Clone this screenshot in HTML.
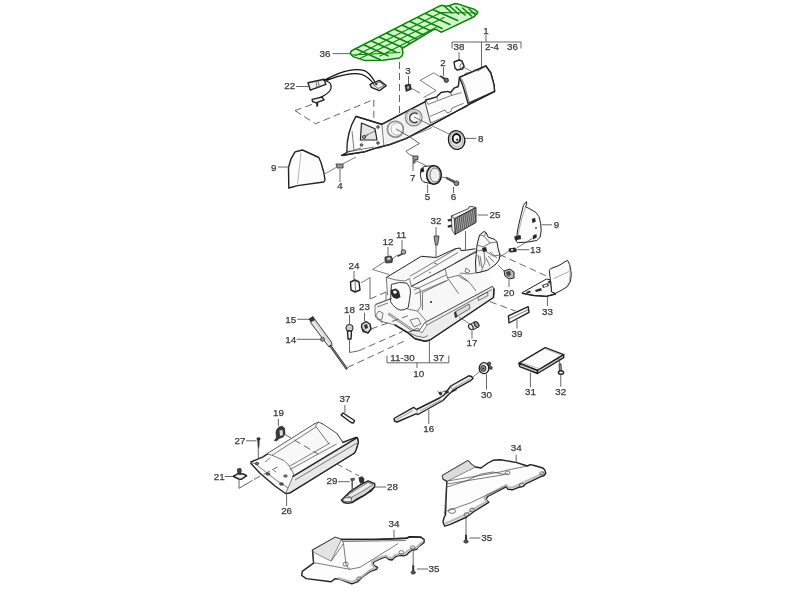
<!DOCTYPE html>
<html><head><meta charset="utf-8"><style>
html,body{margin:0;padding:0;background:#fff;width:800px;height:600px;overflow:hidden}
svg{display:block;will-change:transform}
text{font-family:"Liberation Sans",sans-serif;font-size:9.8px;fill:#383838;stroke:#383838;stroke-width:0.25px;text-anchor:middle}
.o{fill:#fcfcfc;stroke:#222;stroke-width:1.4;stroke-linejoin:round;stroke-linecap:round}
.g{fill:#e2e2e2;stroke:#2a2a2a;stroke-width:0.9;stroke-linejoin:round}
.d{fill:#9a9a9a;stroke:#2a2a2a;stroke-width:0.8}
.l{fill:none;stroke:#555;stroke-width:0.9}
.t{fill:none;stroke:#444;stroke-width:0.7}
.k{fill:none;stroke:#222;stroke-width:1.2;stroke-linejoin:round;stroke-linecap:round}
.ds{fill:none;stroke:#555;stroke-width:0.9;stroke-dasharray:7 4}
.gr{fill:#d2f4ca;stroke:#0a840a;stroke-width:1.5;stroke-linejoin:round}
.gl{fill:none;stroke:#0c860c;stroke-width:1.6;stroke-linecap:round}
</style></head><body>
<svg width="800" height="600" viewBox="0 0 800 600">
<rect width="800" height="600" fill="#fff"/>
<g>

<!-- ===== Part 36 (green) ===== -->
<g id="p36">
<clipPath id="c36"><path d="M350.5,54 Q350,51 353,50 L438.3,6.7 L441.8,5.3 L446,6.3 L449.5,5.6 L455.1,3.5 L457.9,3.9 L467,7 L474,9.1 L477.5,11.6 L477.8,12.3 L476.8,14 L474,16.8 L446,30.1 L441.1,32.2 L436.2,29.4 L434,29.4 L402,48.5 L403,52.5 L402,56 L399.5,58 L383,60.3 L365,60.6 L353,56.6 Z"/></clipPath>
<path class="gr" d="M350.5,54 Q350,51 353,50 L438.3,6.7 L441.8,5.3 L446,6.3 L449.5,5.6 L455.1,3.5 L457.9,3.9 L467,7 L474,9.1 L477.5,11.6 L477.8,12.3 L476.8,14 L474,16.8 L446,30.1 L441.1,32.2 L436.2,29.4 L434,29.4 L402,48.5 L403,52.5 L402,56 L399.5,58 L383,60.3 L365,60.6 L353,56.6 Z"/>
<g clip-path="url(#c36)">
<path class="gl" d="M354.3,48.0 L380.3,59.7 M362.0,44.1 L388.0,55.8 M369.8,40.2 L395.8,51.9 M377.5,36.3 L403.5,48.0 M385.2,32.4 L411.2,44.1 M393.0,28.5 L419.0,40.2 M400.7,24.6 L426.7,36.3 M408.4,20.7 L434.4,32.4 M416.1,16.8 L442.1,28.5 M423.9,12.8 L449.9,24.5 M431.6,8.9 L457.6,20.6 M443.0,5.0 L452.0,13.0 M449.5,6.0 L458.5,14.0 M456.0,7.0 L465.0,15.0 M462.5,8.0 L471.5,16.0 M469.0,9.0 L478.0,17.0"/>
<path class="gl" style="stroke-width:1.2" d="M356,55.5 L441,12.5 L476,13 M360,58.5 L444,17.5 M380,56 L436,27.5 M352,55 L400,52.5"/>
</g>
</g>>>>

<!-- ===== Bracket 1 ===== -->
<path class="l" d="M486,35 L486,42 M452,48.5 L452,42 L521,42 L521,48.5 M481.5,42 L481.5,68 M459,52 L459,60"/>

<!-- ===== Part 38 ===== -->
<g><path class="o" d="M454,62 L459,60 L462,61 L464,66 L462,69 L457,70 L455,68 Z"/><ellipse cx="462" cy="66.5" rx="2" ry="3" class="t"/></g>
<path class="t" d="M463,67 L471,71"/>

<!-- ===== Dashboard (part 1) ===== -->
<g id="dash">
<path class="o" d="M341.6,155.3 L346.8,152.5 Q346.5,132 355.9,116.4 L381.8,124.3 L425,101.8 L425.8,100 L436.7,96.8 L441,92.5 L447.5,91.4 L450.7,92.5 L454,88.2 L458.3,86.5 L459.4,77.3 L485.9,66 L490.8,73 L494,84.9 L494.6,91.4 L468,105 L430.6,125.4 L406,138.6 L390,144.5 L377,147.7 L365,151.7 Z"/>
<!-- gauge face shading -->
<path d="M381.8,124.3 L425,101.8 L430.6,123.1 L406,137 L386,144 Z" fill="#f1f1f1"/>
<!-- end cap -->
<path class="o" d="M459.4,77.3 L485.9,66 L490.8,73 L494,84.9 L494.6,91.4 L468,103.3 L465.9,95.7 L462.6,84.9 Z"/>
<path class="t" d="M461.5,78.5 L464.5,85.5 L467.5,96 L469.5,103 M468,103.3 L494.6,91.4 M463,76 L466,73 L470,73 L475,70 L478,71 L485.9,66"/>
<!-- ledge -->
<path class="t" d="M425.8,100 L428,104.4 L450.7,95.7 L461.6,92.5 M436.7,96.8 L437.5,99.8 M450.7,92.5 L451.5,95.5"/>
<path class="t" d="M430.2,116.3 L445,110 L447,113 L451,111.5 L452,108 L463.7,103.3 M430.6,123.1 L467.8,106.3"/>
<path class="t" d="M425,101.8 L430.6,123.1" style="stroke-width:1"/>
<path class="k" d="M355.9,116.4 L381.8,124.3 L425,101.8" style="stroke-width:1.5"/>
<path class="k" d="M342.4,155.8 L365,151.7 L377,147.7 L390,144.5 L406,138.6 L430.6,125.4 L468,105 L494.6,91.4" style="stroke-width:1.1"/>
<path class="t" d="M381.8,124.3 L384,146 M347,152 L374,147 M378,148.5 L408,137.5 L432,127.5"/>
<!-- left wing -->
<path class="o" d="M361.5,123 L375,128.8 L377,140 L360.4,140 Z" style="stroke-width:1.2;fill:#e4e4e4"/>
<path class="t" d="M363,137 L375,131 M364,139 L368,134"/>
<circle cx="364" cy="137" r="1.6" class="d"/><circle cx="378" cy="127" r="1.3" class="d"/><circle cx="378" cy="143" r="1.3" class="d"/><circle cx="361.5" cy="145" r="1.3" class="d"/>
<path class="t" d="M352,131 L354,150 M346.8,152.5 L361,148 M341.6,155.3 L350,150.5"/>
<!-- gauges -->
<circle cx="395.4" cy="129.2" r="8" fill="#f6f6f6" stroke="#888" stroke-width="1.6"/>
<path d="M400,123.5 A6.2,6.2 0 1,0 401.5,133.5" fill="none" stroke="#aaa" stroke-width="0.9"/>
<circle cx="413.7" cy="117.6" r="8.3" fill="#f6f6f6" stroke="#888" stroke-width="1.3"/><circle cx="413.7" cy="117.6" r="6.4" fill="none" stroke="#aaa" stroke-width="0.8"/>
<path d="M417.5,114 A4.8,4.8 0 1,0 417.5,121.5" fill="none" stroke="#333" stroke-width="1.4"/>
</g>

<!-- dashed lines top -->
<path class="ds" d="M399.5,62 L399.5,113"/>
<path class="ds" d="M295,110.6 L315.6,123.8 L373.8,99.4 L373.8,120 M295,110.6 L313,104"/>

<!-- plate outline near 2/3 -->
<path class="t" d="M420.2,80.3 L433.8,72.8 L439.4,76.6 M420.2,80.3 L436.1,90.6 L423.4,97.6"/>

<!-- ===== Labels top ===== -->
<text x="325" y="56.55">36</text>
<path class="l" d="M332.5,53.6 L350,53.6"/>
<text x="486" y="34.20">1</text>
<text x="459" y="49.75">38</text>
<text x="492" y="49.75">2-4</text>
<text x="512.5" y="49.75">36</text>
<text x="443" y="66.00">2</text>
<path class="l" d="M443.5,67 L443.5,76"/>
<path fill="#333" d="M439,76 L441,75.5 L446,78.5 L445,80.5 Z"/><circle cx="446.3" cy="80.3" r="2.2" fill="#666" stroke="#222" stroke-width="0.8"/>
<text x="408" y="73.60">3</text>
<path class="l" d="M408.5,76 L408.5,85"/>
<path fill="#333" stroke="#111" stroke-width="0.5" d="M405,85 L410.5,84 L411.3,89.5 L406,91.5 Z"/><path fill="#bbb" d="M407,86.5 L409,86 L409.3,88.5 L407.3,89 Z"/>
<path class="t" d="M411,88 L420,93"/>

<!-- ===== Part 22 harness ===== -->
<text x="289.8" y="89.20">22</text>
<path class="l" d="M296,86.5 L308,86.5"/>
<path class="o" d="M308,82.7 L324.1,79.2 L325.9,84.4 L310.3,90.2 Z" style="fill:#eee"/>
<path class="t" d="M316,81 L317,88.5 M318,80.5 L319.5,87.5"/>
<path fill="none" stroke="#111" stroke-width="1.2" stroke-linecap="round" d="M324,80.4 C332,76 340,72 348.3,70.6 C354,69.5 360,69.5 364.4,70.6 C368,72 372,77 374.7,81.5 M326.4,80.4 C334,77 340,75.5 346,74.6 C351,73.5 357,73 362,74.5 C366,76 370,79 373.6,83.8 M326.4,81 C330,82 331.5,85 331,88.4 C330,92 327,94.5 320.1,97.6"/>
<path class="o" d="M370.1,84.4 L379.3,80.4 L386.2,85.6 L379.3,90.7 L371.3,87.3 Z" style="fill:#f2f2f2"/>
<path class="t" d="M373,84.5 L380,82 L384,85.5 L378,88.5 Z"/>
<path fill="#333" d="M375,83.5 L377,83 L377.5,85 L375.5,85.5 Z"/>
<path class="o" d="M312.1,99.4 L321.8,97.1 L324.1,99.9 L316.1,102.8 L312.6,101.7 Z" style="fill:#eee"/>
<path fill="#222" d="M316.2,103 L318.2,103 L318.2,106.5 L316.2,106.5 Z"/>
<!-- ===== Part 9 left ===== -->
<path class="o" d="M288.8,188 L288.5,167.5 L291,158.8 L295,151.9 L302.5,150 L318.8,157.5 L321,162.5 L323.8,172.5 L325,180 L323.8,182 L297.5,185.6 Z"/>
<path class="t" d="M301,152.5 L297.5,183.8" style="stroke:#999"/>
<text x="273.8" y="170.60">9</text>
<path class="l" d="M278,167 L289,167"/>
<path class="t" d="M325,173.8 L336,167.5 M343,163.8 L356,157"/>
<path class="d" d="M336,164 L343,164 L343,168 L337,168 Z"/>
<text x="340" y="189.00">4</text>
<path class="l" d="M340,169 L340,182"/>

<!-- ===== Parts 8,7,5,6 ===== -->
<ellipse cx="456.6" cy="140" rx="8.2" ry="9.5" transform="rotate(-15 456.6 140)" fill="#e2e2e2" stroke="#1a1a1a" stroke-width="1.3"/><ellipse cx="456.6" cy="139.5" rx="6.3" ry="7.4" transform="rotate(-15 456.6 140)" fill="none" stroke="#999" stroke-width="0.7"/><ellipse cx="456.5" cy="138.4" rx="3.8" ry="4.4" fill="#fafafa" stroke="#111" stroke-width="1.8"/><path fill="#333" d="M456,139 L458,138.5 L458.5,140.5 L456.5,141 Z"/>
<path class="t" d="M414,117 L449.8,134.4"/>
<text x="480.7" y="141.60">8</text>
<path class="l" d="M465,138.4 L476.5,138.4"/>
<path class="l" d="M396,129 L409.3,136.6 L419.4,143.4 L405.9,151.3 L409.3,154.6 L414,156.5"/>
<path class="d" d="M413,156 L418,156 L418,159.7 L415,159.7 L415,163 L413,163 Z"/>
<text x="412.7" y="180.70">7</text>
<path class="l" d="M413,163 L413,171"/>
<g>
<ellipse cx="425" cy="174.3" rx="4.6" ry="8" fill="#fafafa" stroke="#222" stroke-width="1"/>
<path fill="#fafafa" d="M425,166.3 L434,165.7 L434,184.3 L425,182.3 Z"/>
<path class="k" d="M425,166.3 L434,165.7 M425,182.3 L434,184.3" style="stroke-width:1"/>
<ellipse cx="434" cy="175" rx="7.3" ry="9.3" fill="#dcdcdc" stroke="#1a1a1a" stroke-width="1.6"/>
<ellipse cx="435" cy="175" rx="5" ry="7" fill="#eee" stroke="#555" stroke-width="0.8"/>
<path fill="#222" d="M420.3,169 L423.5,167.5 L424.3,171.5 L421,172.5 Z"/>
</g>
<path class="t" d="M415,160.3 L426.3,165.7 M441,177 L446.3,177.7"/>
<text x="427.6" y="199.95">5</text>
<path class="l" d="M427.6,184.5 L427.6,193"/>
<path fill="#555" stroke="#222" stroke-width="0.5" d="M446.5,177 L454.5,180.8 L453.8,182.8 L446,178.6 Z"/><circle cx="456.5" cy="183.3" r="2.4" fill="#888" stroke="#222" stroke-width="0.8"/>
<text x="453.5" y="199.95">6</text>
<path class="l" d="M453.5,187 L453.5,193"/>


<!-- ===== Glovebox housing (10) ===== -->
<g id="gb">
<path fill="#f8f8f8" d="M386.3,277.5 L421.3,256.3 L436.3,257.5 L455,248.8 L460,248 L475,248.4 L480,233.5 L485.5,231.8 L496,240.5 L499.5,252.8 L497.8,265 L492.5,268.5 L486,271 L490,281 L492.5,286.3 L493,292 L470,313.8 L427.5,338.8 L422.5,342 L417.5,341.3 L407.5,335 L395,325 L380,321 L375,314 L375,305 L386,300 Z"/>
<!-- interior floor -->
<path fill="#f7f7f7" d="M411.3,286.3 L445,268.8 L447.5,278 L458.8,293.8 L470,293.8 L425,322.5 L417.5,311 L421,306 L420,289 Z"/>
<!-- top panel -->
<path class="k" d="M386.3,277.5 L421.3,256.3 L436.3,257.5 L455,248.8 L460,248 L461,250.6 L467.5,250 L475,248.8" style="stroke-width:1"/>
<path class="t" d="M410,276.3 L456.3,248.8 M413,279 L458,252.5 M386.3,277.5 L396,280 L405,281 L409.5,278.5 L411.3,286.3 M429,272 L431,273 M434,263 L437,264"/>
<path fill="none" stroke="#222" stroke-width="1" d="M411.3,286.3 L445,268.8 L476,252"/>
<path class="t" d="M445,268.8 L447.5,278 L458.8,293.8 M447.5,278 L460,275 L468,281 L472.5,286.3 L476,291 M458.8,276.3 L467.5,281.3 M414,290 L446,275 M415,294 L448,280"/>
<circle cx="431" cy="302" r="1.1" fill="#333"/><path class="t" d="M422.5,292.5 L422.5,310 M422.5,292.5 L446,281"/>
<!-- left block -->
<path class="t" d="M386.3,277.5 L387.5,295 M411.3,286.3 L420,289 L421,306 L417.5,311 M375,305 L390,299 L407.5,309 L417.5,311 L427.5,322.5 M375,305 L375,314 L380,321 L395,325 M386,300 L386,292"/>
<path class="o" d="M391.8,284.3 Q400,281 407,283.2 Q411,288 410.5,292 L409.3,300.7 L408.2,307.7 Q404,310.5 400,310 Q394,308 390.7,301.8 Z" style="stroke-width:0.9"/>
<path fill="#2a2a2a" d="M390.5,290 L396,288.5 L399,291 L400.5,297 L397,299 L393,297.5 L391,294 Z"/>
<path fill="#fff" d="M393,291 L396,290.5 L397,293 L394,294 Z"/>
<path class="t" d="M375.5,304.2 L391.8,298.3 M377,307 L388,303 M375,316 L378,320 L382,319 L383,313 L379,311 Z M381,320 L382,323"/>
<path fill="none" stroke="#777" stroke-width="2.2" d="M388.3,313.5 L405,325 L423.3,338"/>
<path fill="none" stroke="#fff" stroke-width="0.8" d="M388.3,313.5 L405,325 L423.3,338"/>
<path class="t" d="M410,320 L418,318 L421,324 L414,327 Z M413,330 L418,328 L421,334 L416,336 Z"/>
<path fill="#444" d="M414,331 L417,330 L418,333 L415,334 Z"/>
<!-- front frame -->
<path fill="#ececec" stroke="#333" stroke-width="0.9" stroke-linejoin="round" d="M425,322.5 L492.5,286.3 L494,289 L493.5,297.5 L430,340 L425,341.3 L415,338.8 L407.5,332.5 L413,330.5 L419,331 Z"/>
<path fill="#fff" stroke="#555" stroke-width="0.7" d="M419,331 L425,322.5 L427,325 L422,333 Z"/>
<path class="t" d="M427,325 L492,289.5 M410,333 L416,336 L424,337.5 L428,335.5"/>
<path class="k" d="M395,325 L407.5,332.5 L415,338.8 L425,341.3 L430,340 L493.5,297.5 L494,289" style="stroke-width:1.5"/>
<path class="t" d="M478,297 L487.5,292 L488,295.5 L478.5,300.5 Z"/>
<path fill="#ddd" stroke="#333" stroke-width="0.7" d="M455,312 L469,304 L470,308.5 L456.5,316.5 Z"/>
<path fill="#333" d="M454,312.5 L456,311.5 L457.5,317 L455,318 Z"/>
<!-- tower -->
<path fill="#f6f6f6" stroke="#222" stroke-width="1" stroke-linejoin="round" d="M479.5,235 L484,231.5 L486,232.5 L488,237 L495,239.5 L497,242 L498,248 L500,255 L499,260 L496,264 L492,267 L488,270 L481,272 L476,273 L475.5,262 L476.5,251 L477,245 Z"/>
<path class="t" d="M479.5,235 L484,236 L486,232.5 M484,236 L490,243 L497,242 M477,245 L483,247 L490,243 M476.5,251 L484,250 L493,256 L500,255 M484,250 L485,262 L481,272 M478,255 L480,266 M480,256 L482,268 M488,256 L494,262 M490,252 L497,258 M486,258 L490,266"/>
<path fill="#222" d="M482,248 L486,247 L487,251 L483,252 Z"/>
<path class="t" d="M455,263 L476,251"/>
<path class="t" d="M466,268 L470,271 L468,273 L465,272 Z M460,273 L468,274 L475.5,273"/>
</g>
<!-- glovebox small parts -->
<text x="436" y="223.90">32</text>
<path class="l" d="M436,227 L436,236 M436,245 L436,257.5"/>
<path class="d" d="M434,236 L439,236 L438.5,240 L437.5,245 L435.5,245 L434.5,240 Z"/>
<text x="401" y="237.60">11</text>
<path class="l" d="M402,240 L402,250"/>
<circle cx="403.5" cy="252" r="2.3" fill="#aaa" stroke="#222" stroke-width="0.8"/><path fill="#444" d="M402,253 L397,255.5 L397.8,257 L403,254.5 Z"/>
<text x="388" y="244.50">12</text>
<path class="l" d="M388,247 L388,256"/>
<path fill="#555" stroke="#222" stroke-width="0.8" d="M385,257 L391,256 L392.5,259 L392,262.5 L386,263 L385,260 Z"/><path fill="#ddd" d="M387,258 L390,257.6 L390.5,259.5 L387.5,260 Z"/>
<path class="t" d="M392,259 L397.5,255 M386,261 L372.5,269.5 L389,274.5"/>
<!-- part 25 grille -->
<defs><pattern id="mesh" width="2" height="2" patternUnits="userSpaceOnUse" patternTransform="rotate(-8)"><rect width="2" height="2" fill="#a8a8a8"/><rect width="1" height="2" fill="#555"/></pattern></defs>
<path fill="#f2f2f2" stroke="#222" stroke-width="0.8" stroke-linejoin="round" d="M451.3,216 L468.5,208.5 L469,206.8 L472,206.5 L476,207.5 L454.3,218.8 Z"/>
<path fill="url(#mesh)" stroke="#222" stroke-width="0.9" stroke-linejoin="round" d="M454.3,218.8 L476,207.5 L476,222.5 L455,234.5 Z"/>
<path fill="#f4f4f4" stroke="#222" stroke-width="0.7" d="M451.3,216 L454.3,218.8 L455,234.5 L452,230 Z"/>
<path fill="#333" d="M447.5,219.5 L451.5,218.5 L451.8,221 L448,221.5 Z M447.5,225.5 L451.8,224.5 L452,227 L448,227.8 Z"/>
<text x="495" y="217.85">25</text>
<path class="l" d="M477.6,215 L488,215"/>
<path class="l" d="M465.5,231 L465.5,250"/>
<!-- part 9 right -->
<path class="o" d="M526.5,202 Q527.5,204 525.5,206.9 L528.2,208 L535.8,212.3 L539,216.7 L540.6,223.2 L541.2,230.8 L540.1,237.3 L536.8,240.5 L527.1,242.1 L517.3,242.7 L516.3,241.6 L516.8,236.2 L517.9,228.6 L520.6,216.7 L523.3,205.8 Z" style="stroke-width:1"/>
<path class="t" d="M525.5,206.9 L522,218 L519,230 L518,238" style="stroke:#888"/>
<path fill="#2a2a2a" d="M531.8,219 L535,217.8 L535.8,221.5 L532.5,223.2 Z M532.8,235.5 L536.5,234 L536.8,237.5 L533,239.4 Z M514.2,236.5 L520.5,235 L521.1,239 L515,240.5 Z"/>
<path fill="#555" d="M535,227.5 L537,227 L537,228.5 L535,229 Z"/>
<text x="556.4" y="228.15">9</text>
<path class="l" d="M541.7,224.8 L552,224.8"/>
<!-- part 13 -->
<path fill="#2a2a2a" d="M508.7,248.5 L515,247.5 L516.8,249.5 L516.3,252 L510,252.4 L508.7,251 Z"/>
<path fill="#fff" d="M511,249.3 L513,249 L513.3,250.5 L511.2,250.7 Z"/>
<text x="535.4" y="252.60">13</text>
<path class="l" d="M517.3,249.7 L529.3,249.7"/>
<path class="t" d="M508.7,251.3 L500,256.8 M516.8,248 L532.5,238.3"/>
<path class="ds" d="M499.5,254.5 L548.5,277"/>
<!-- part 20 -->
<path fill="#bbb" stroke="#222" stroke-width="1" d="M504,271 L510,269 L514,272 L514,278 L509,279 L505,276 Z"/><path fill="#444" d="M506,272 L510,271 L511,275 L507,276 Z"/>
<path class="t" d="M509,271 L509,277 M498,265 L504,271"/>
<text x="509" y="296.10">20</text>
<path class="l" d="M509,280 L509,287"/>
<!-- part 33 -->
<path class="o" d="M549.5,270 L551,268.5 L557,266.3 L560,264.8 L567.5,260.3 L569.8,264.8 L571.3,273.8 L570.5,281.3 L567.5,286.5 L561.5,290.3 L555.5,293.3 L551.5,292 L550.3,279 Z" style="stroke-width:1"/>
<path class="t" d="M569,262.5 L570.2,272 L569.5,282 L566,287 M554,278.5 L569,271.5" style="stroke:#888"/>
<path class="o" d="M522.5,292.5 L546.5,279 L550.3,279.8 L551.5,292 L555.5,294 L546.5,296.3 L533.8,295.5 L522.5,293.3 Z" style="stroke-width:1"/>
<path class="k" d="M522.5,293.3 L533.8,295.5 L546.5,296.3 L555.5,294" style="stroke-width:1.3"/>
<path fill="#333" d="M542,285 L548,283 L549,286 L543,288 Z M535,290 L541,288 L542,290.5 L536,292 Z M548,281 L551,280.5 L551.5,283 L548.5,283.5 Z M526,292 L530,290.5 L531,292.5 L527,293.5 Z"/>
<path fill="#fff" d="M543.5,285.5 L547,284.3 L547.5,285.8 L544,287 Z"/>
<text x="547.4" y="314.70">33</text>
<path class="l" d="M547.4,296.7 L547.4,306"/>
<!-- part 39 -->
<path class="o" d="M508.4,315.9 L528.2,306.7 L529,312.3 L509,323 Z"/>
<path class="t" d="M509,319 L528.5,309.5"/>
<path class="ds" d="M490,301.7 L515.5,311"/>
<text x="517" y="336.60">39</text>
<path class="l" d="M517,320 L517,328.5"/>
<!-- part 17 -->
<path fill="#e0e0e0" stroke="#222" stroke-width="1" stroke-linejoin="round" d="M470,324.5 L474.5,321.8 L478.2,326.8 L473.5,329.8 Z"/>
<ellipse cx="470.8" cy="327" rx="1.9" ry="3" transform="rotate(-35 470.8 327)" fill="#eee" stroke="#222" stroke-width="1"/><ellipse cx="476.6" cy="324.5" rx="2" ry="3.1" transform="rotate(-35 476.6 324.5)" fill="#999" stroke="#222" stroke-width="1"/>
<path class="t" d="M459,317 L470,324"/>
<text x="472" y="346.40">17</text>
<path class="l" d="M472,330.5 L472,338.5"/>
<!-- bracket 10 -->
<path class="l" d="M387,355.6 L387,362.8 L448.8,362.8 L448.8,355.6 M429.4,340 L429.4,362.8 M417,362.8 L417,368"/>
<text x="402.5" y="361.40">11-30</text>
<text x="438.8" y="361.40">37</text>
<text x="418.8" y="377.15">10</text>
<!-- part 24 -->
<text x="354" y="269.40">24</text>
<path class="l" d="M354,271 L354,280"/>
<path class="o" d="M350.5,282 L355,280 L359,282 L360,290 L355,292 L351,290 Z"/>
<path class="t" d="M355,280 L355.5,291 M361,283 L370,277.5"/>
<path class="l" d="M370,277.5 L370,299"/><path class="ds" d="M370,299 L386,292"/><path class="ds" d="M371,329 L407.8,315.8"/>
<!-- part 23, 18 -->
<text x="364.5" y="310.40">23</text>
<path class="l" d="M364.5,312.8 L364.5,321"/>
<path class="o" d="M362,324 L366,321.5 L370,324 L371,329 L368,333 L363,331 L361.5,327 Z" style="fill:#ddd"/><path fill="#333" d="M364,325 L367,324 L368,328 L365,329 Z M362,330 L364,329 L365,332 L363,332.5 Z"/>
<text x="349.5" y="313.40">18</text>
<path class="l" d="M349.5,315 L349.5,324"/>
<circle cx="349.5" cy="328" r="3.6" fill="#ccc" stroke="#222" stroke-width="1"/>
<path class="o" d="M347.5,331 L351.5,331 L351,339 L348,339 Z"/>
<path class="l" d="M349.5,339 L349.5,352.5 L358.8,350.8"/>
<path class="ds" d="M358.8,350.8 L402.5,331.5 M347.5,367.5 L406,340.3"/>
<!-- parts 15/14 -->
<text x="290.7" y="322.60">15</text>
<path class="l" d="M297.3,319.3 L310,319.3"/>
<path class="d" d="M309,319 L313,316.5 L315,320 L311,322 Z" style="fill:#333"/>
<path fill="#d8d8d8" stroke="#333" stroke-width="0.9" stroke-linejoin="round" d="M310.5,322.5 L315,319.5 L331.5,342 L332,345.5 L329,347 L327.5,345 Z"/>
<path class="t" d="M312.5,321.5 L329,344.5" style="stroke:#fff;stroke-width:1"/>
<path fill="none" stroke="#333" stroke-width="2.2" stroke-linecap="round" d="M330.5,346 L346.5,368.5"/><path fill="none" stroke="#aaa" stroke-width="0.7" d="M330.5,346 L346.5,368.5"/>
<circle cx="322.5" cy="339.3" r="2" fill="#999" stroke="#333" stroke-width="0.8"/>
<text x="290.7" y="342.60">14</text>
<path class="l" d="M296.7,339.3 L321.3,339.3"/>


<!-- ===== part 16 rod ===== -->
<g id="p16">
<path class="o" d="M394,418.5 L413.6,407.3 L416.5,409.5 L439.5,398 L444,395 L450.8,386 L468.8,375.8 L471.5,376.5 L473,378.5 L471,380.3 L453,390.4 L447,396 L443,400.5 L418,414.5 L416,413.8 L397,422 L394.5,421 Z" style="fill:#f3f3f3"/>
<path class="t" d="M396,420 L413,410.5 M453,388.5 L470,378.5 M416.5,409.5 L418,414.5 M450.8,386 L453,390.4 M420,411 L441,400" style="stroke:#777"/>
<path fill="#333" d="M444.5,391 L448,389.5 L449,392.5 L446,394 Z M438,392.5 L441,391.5 L442.5,394.5 L440,395.5 Z M451,391 L456,388.5 L457,390 L452,392.5 Z"/>
<path class="t" d="M437.5,391 L440,393 M441,392.5 L445,391"/>
</g>
<path class="t" d="M473,377 L481,370.5"/>
<text x="428.8" y="432.10">16</text>
<path class="l" d="M428.8,410 L428.8,424"/>
<!-- part 30 -->
<g>
<path fill="#555" stroke="#222" stroke-width="0.6" d="M486.5,364 L489,361.8 L491,363 L490,365.5 L492.5,367.5 L491.5,369.6 L488.5,368.5 Z"/>
<ellipse cx="484" cy="368.2" rx="4.8" ry="5.5" fill="#f2f2f2" stroke="#222" stroke-width="1.3"/>
<ellipse cx="483.3" cy="368.4" rx="2.6" ry="3" fill="#999" stroke="#222" stroke-width="1"/>
<circle cx="483.3" cy="368.4" r="1" fill="#222"/>
</g>
<text x="486.5" y="398.40">30</text>
<path class="l" d="M486.5,374 L486.5,389.5"/>
<!-- part 31 pad -->
<path class="o" d="M519,363.2 L545.2,347.6 L563.7,354.7 L537.5,370.5 Z"/>
<path class="o" d="M519,363.2 L537.5,370.5 L537.5,373.5 L519.7,366.7 Z" style="fill:#cfcfcf"/>
<path class="o" d="M537.5,370.5 L563.7,354.7 L563.7,357.7 L537.5,373.5 Z" style="fill:#d8d8d8"/>
<path class="t" d="M522,362.5 L540,369 M546,349 L560,354.5" style="stroke:#999"/>
<text x="530.4" y="395.00">31</text>
<path class="l" d="M530.4,372.4 L530.4,387.3"/>
<!-- part 32 screw -->
<path class="l" d="M558.5,358 L560,364"/>
<path class="d" d="M559,364 L561,364 L561.5,371 L559.5,371 Z"/>
<ellipse cx="561" cy="372.5" rx="2.6" ry="1.8" class="o"/>
<text x="560.8" y="395.00">32</text>
<path class="l" d="M560.8,374.5 L560.8,386.6"/>

<!-- ===== part 26 lid ===== -->
<g id="p26">
<path class="o" d="M251,462 L263,456.8 L267.5,453.8 L314,424.5 L318.5,422.3 L323,424.5 L332,430.5 L336.5,433.5 L342.5,442.5 L356,437.3 L357.5,438 L358.3,442.5 L356,450 L354.5,453 L290,492.8 L285.5,493.5 L275,486 L260,473.3 L251,463.5 Z"/>
<!-- tray floor -->
<path fill="#f8f8f8" d="M267.5,453.8 L314,424.5 L318.5,422.3 L323,424.5 L332,430.5 L336.5,433.5 L342.5,442.5 L293,476.3 L288.5,465 L284,460.5 L272,455.3 Z"/>
<path class="t" d="M263,456.8 L267.5,453.8 L272,455.3 L284,460.5 L288.5,465 L293,472.5 L293.8,476.3 M315.5,426 L329,444 M290,469.5 L336.5,444 M272,455.3 L316,427 M290,466 L330,443"/>
<path class="t" d="M318.5,422.3 L316,425 L315.5,426"/>
<!-- front face -->
<path fill="#e8e8e8" stroke="none" d="M293,476.3 L356.8,437.8 L358.3,442.5 L356,450 L354.5,453 L290,492.8 L285.5,493.5 L288,488 Z"/>
<path class="k" d="M293,476.3 L356.8,437.8" style="stroke-width:1.5"/>
<path class="t" d="M293,476.3 L288,488 L285.5,493.5 M295,480 L357,443"/>
<path class="k" d="M285.5,493.5 L290,492.8 L354.5,453 L356,450 L358.3,442.5 L357.5,438" style="stroke-width:1.2"/>
<path class="t" d="M251,463.5 L254,463 L262,469 L276,480 L288,488"/>
<ellipse cx="257" cy="463.5" rx="1.8" ry="1.2" fill="#666" stroke="#222" stroke-width="0.6"/><ellipse cx="268" cy="474" rx="2" ry="1.3" fill="#666" stroke="#222" stroke-width="0.6"/><ellipse cx="281.5" cy="484" rx="2" ry="1.3" fill="#666" stroke="#222" stroke-width="0.6"/><ellipse cx="285.5" cy="476" rx="1.8" ry="1.2" fill="#888" stroke="#222" stroke-width="0.6"/>
<path class="t" d="M272,469 L276,472 M265,462 L270,458"/>
</g>
<path class="ds" d="M285,434.5 L318,454 M336,463.5 L359,476"/>
<text x="286.6" y="514.40">26</text>
<path class="l" d="M286.6,493.6 L286.6,506"/>
<!-- part 19 -->
<path fill="#3a3a3a" stroke="#111" stroke-width="0.6" d="M276.5,430 L279,427 L282,426.2 L284.5,428 L285,434 L283,437 L279,438.5 L276.5,441 L274.5,440.5 L276.5,437.5 L276,433 Z"/>
<path fill="#ddd" d="M279.5,430.5 L282.5,430 L283,435 L280,436 Z"/>
<text x="278.4" y="415.60">19</text>
<path class="l" d="M278.4,419 L278.4,426"/>
<!-- part 27 -->
<ellipse cx="258.5" cy="438.8" rx="2" ry="1.6" fill="#333"/><path fill="#333" d="M257.3,439 L259.7,439 L259.2,447.8 L257.8,447.8 Z"/>
<text x="239.9" y="444.05">27</text>
<path class="l" d="M246,440.8 L256.5,440.8 M258.3,447.8 L258.3,459"/>
<!-- part 21 -->
<path class="o" d="M233.3,476.3 L238,473.7 L243.3,474 L246.7,475.7 L241.3,479.3 L238.7,479 Z" style="fill:#eee"/><path fill="#444" stroke="#111" stroke-width="0.6" d="M237.3,469 L240.7,468.3 L241.3,470.3 L240.7,474.3 L238,473.7 Z"/><circle cx="233.8" cy="476.3" r="0.9" fill="#111"/>
<text x="219.3" y="479.90">21</text>
<path class="l" d="M224.8,476.5 L233,476.5 M239,479.7 L239,488.3 L252.7,480.3"/>
<path class="ds" d="M254,479.5 L277.5,467"/>
<!-- part 37 pin -->
<path class="o" d="M341,415 L343,413 L354.5,420.5 L353.5,423 L351,422.5 Z"/>
<text x="344.9" y="401.70">37</text>
<path class="l" d="M344.9,405 L344.9,413"/>
<!-- part 29/28 -->
<path class="o" d="M341.4,500.2 L345.6,495.9 L349.4,492.2 L355,488.4 L360.6,484.7 L368.1,480.9 L374.7,483.7 L374.7,486.6 L370.9,491.2 L364.4,495 L355.9,499.7 L352.2,502.5 L347.5,503.4 L343.7,502.5 Z" style="fill:#d6d6d6"/>
<path fill="#f4f4f4" stroke="#333" stroke-width="0.7" d="M342.8,499.5 L345,497.8 L351.5,497.8 L351.2,501.6 L345,501.6 Z"/>
<path fill="#eee" stroke="#333" stroke-width="0.6" d="M347,495.5 L358,488.5 L368,482.5 L373,484.5 L362,491.5 L351,497.5 Z"/>
<path class="k" d="M352.2,502.5 L364.4,495.5 L373.5,488" style="stroke-width:1.3"/>
<path fill="#333" d="M358.7,477.5 L362,476.2 L364.4,478.5 L364,483 L360.5,483.7 L359,481 Z"/>
<path fill="#555" d="M350.3,478.3 L355,477.8 L354.5,480.5 L353,481 L352.8,492 L351.6,492 L351.4,481 L350.5,480.5 Z"/>
<text x="332" y="484.20">29</text>
<path class="l" d="M338.1,481.7 L349.8,481.7"/>
<text x="392.5" y="490.20">28</text>
<path class="l" d="M374.7,487 L386.4,487"/>

<!-- ===== part 34 upper ===== -->
<g>
<path class="o" d="M442.4,475.6 L468,460.6 L471.5,464.5 L475.5,467 L481,468 L488,463 L493.5,460.2 L500.3,459.7 L516.8,462.6 L527.4,466 L530.3,464.6 L534.2,465.5 L542.9,468 L544.8,469.9 L545.8,473.3 L543.8,475.7 L541.9,476.2 L525.5,483.9 L523.5,486.3 L518.7,487.3 L512.9,489.7 L508,489.2 L506.1,486.8 L487.7,496.5 L485.8,499.4 L488.7,502.3 L474,511.5 L466.7,517 L450.2,524.3 L444.7,526.2 L443,522 L444,517.5 L445.5,515 L446.8,481.3 L443,478.8 Z"/>
<path fill="#dcdcdc" stroke="#444" stroke-width="0.6" d="M442.4,475.6 L468,460.6 L471.5,464.5 L475.5,467 L447.5,481 L443,478.8 Z"/>
<path fill="none" stroke="#bbb" stroke-width="2" d="M445,523.5 L450,521.5 L466,514.5 L472.5,509.5 L486.5,501.5 L484.5,498.5 L487,495 L506.5,485 L508.5,487.5 L512.5,487.5 L518.5,485 L523,483 L525,481.5 L541,474.5 L544,472"/>
<path class="t" d="M447.5,481 L500,472 L508,470 L527.4,466 M447,484 L505,474.5 M447,487 L466,481 L481,474 L493,472 L502,474 L508,474 M447,511 L470,503 L506,486 M446.8,481.3 L444.5,514.5"/>
<ellipse cx="452" cy="511" rx="3.5" ry="2.4" class="t"/>
<ellipse cx="466.5" cy="514.5" rx="2.5" ry="1.8" class="t"/><ellipse cx="472" cy="510" rx="2.5" ry="1.8" class="t"/>
<ellipse cx="507.6" cy="472.8" rx="2.3" ry="1.8" class="t"/><ellipse cx="521.6" cy="484.9" rx="2.5" ry="1.8" class="t"/><ellipse cx="541.9" cy="473.3" rx="2.2" ry="1.6" class="t"/>
</g>
<text x="516.2" y="451.20">34</text>
<path class="l" d="M516.2,454.7 L516.2,462.5"/>
<path class="l" d="M466,518 L466,534"/>
<path fill="#333" d="M465,534.4 L467,534.4 L467,540.5 L465,540.5 Z"/><ellipse cx="466" cy="541.5" rx="2.2" ry="1.6" fill="#555" stroke="#222" stroke-width="0.7"/>
<text x="486.8" y="540.90">35</text>
<path class="l" d="M469.4,538 L480.4,538"/>

<!-- ===== part 34 lower ===== -->
<g>
<path class="o" d="M312.5,550.2 L335.3,537.3 L341.5,539.4 L376,539.4 L406.5,538.3 L409.6,536.8 L421,537.3 L424.1,539.4 L424.1,542.5 L417.9,547.1 L416.8,549.2 L411.7,550.2 L408.6,552.8 L406.5,554.9 L403.4,555.9 L399.3,555.4 L395.1,556.9 L392,560 L388.9,559.5 L385.8,556.9 L379.6,559 L373.4,562.1 L373.4,565.2 L377.6,567.3 L376.5,569.3 L370.3,571.4 L360,578.6 L358,581.7 L351.8,583.8 L339.4,579.2 L335.3,578.6 L331.1,581.7 L306.3,578.6 L301.7,575.5 L302.2,571.4 L313.6,563.1 Z"/>
<path fill="#e4e4e4" stroke="#444" stroke-width="0.6" d="M312.5,550.2 L335.3,537.3 L341.5,539.4 L331.1,561.1 L314.6,552.8 Z"/>
<path fill="none" stroke="#bbb" stroke-width="2" d="M338,578 L352,582 L358,579.5 L370,570 L375,568 L372,564.5 L372,561.5 L380,557.5 L386,555.5 L389,558 L392,558 L395,555 L400,554 L404,554 L408,550.5 L412,548.5 L416,548 L422.5,541.5"/>
<path class="k" d="M341.5,539.4 L376,539.4 L406.5,538.3 L409.6,536.8 L421,537.3" style="stroke-width:1.5"/>
<path class="t" d="M343,541.5 L406,540.5 M313.6,563.1 L316.7,563.1 L349.7,569.3 L360,567.3 L398.2,543.5 M331.1,561.1 L343.5,543.5 M343.5,543.5 L346,565 L350,570 M341.5,539.4 L343.5,543.5 M312.5,550.2 L313.6,563.1"/>
<ellipse cx="345.6" cy="564.2" rx="2.6" ry="2" class="t"/>
<ellipse cx="359" cy="578.6" rx="2.4" ry="1.7" class="t"/><ellipse cx="401.3" cy="552.3" rx="2.4" ry="1.7" class="t"/><ellipse cx="412.7" cy="547.6" rx="2.4" ry="1.7" class="t"/>
</g>
<text x="394" y="527.30">34</text>
<path class="l" d="M394,530 L394,539"/>
<path class="l" d="M413.2,550 L413.2,565.5"/>
<path fill="#333" d="M412.2,565.2 L414.2,565.2 L414.2,571.5 L412.2,571.5 Z"/><ellipse cx="413.2" cy="572.5" rx="2.2" ry="1.6" fill="#555" stroke="#222" stroke-width="0.7"/>
<text x="434" y="571.90">35</text>
<path class="l" d="M417,569 L428,569"/>

</g>
</svg>
</body></html>
